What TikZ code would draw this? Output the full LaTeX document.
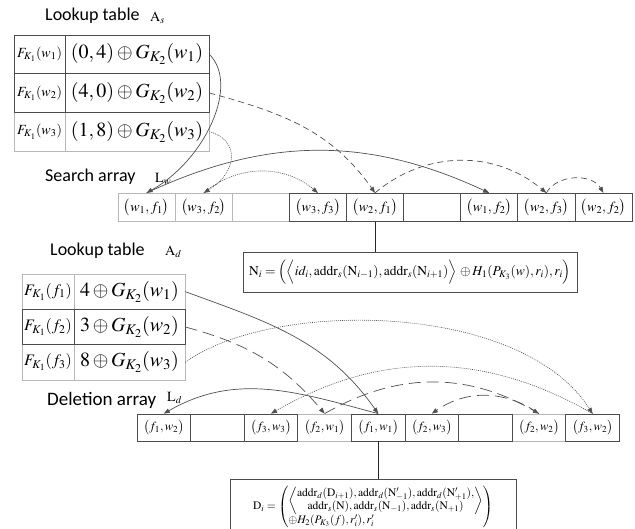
\documentclass[tikz,border=0pt]{standalone}
\usepackage{amsmath}
\usepackage{mathptmx}
\usepackage{fontspec}
\setmainfont{Liberation Serif}
\newfontfamily\labelfont{Carlito}
\usetikzlibrary{arrows.meta}
\definecolor{linegray}{RGB}{80,80,80}

\begin{document}
\begin{tikzpicture}[x=1pt,y=-1pt,
    cellbox/.style={draw=black!70, line width=0.7pt, inner sep=0pt, anchor=center},
    litebox/.style={cellbox, draw=black!28},
    title/.style={anchor=west, inner sep=0pt, font=\labelfont\fontsize{18}{18}\selectfont},
    tag/.style={anchor=west, inner sep=0pt, font=\fontsize{14}{14}\selectfont},
    solidlink/.style={draw=linegray, line width=0.7pt, -{Triangle[length=6pt,width=4.5pt]}},
    dashlink/.style={solidlink, dash pattern=on 6pt off 4pt},
    longdash/.style={solidlink, dash pattern=on 12pt off 6pt},
    dotlink/.style={solidlink, line width=0.6pt, dash pattern=on 1pt off 1pt}]
    \useasboundingbox (0,0) rectangle (635,528);

    % lookup table A_s
    \node[title] (tabs) at (45,16) {Lookup table};
    \node[tag] (tabstag) at (150,18) {$\mathrm{A}_s$};
    \node[litebox, minimum width=51pt, minimum height=38.7pt, font=\fontsize{14}{14}\selectfont] (asl3) at (39.5,131.7) {$F_{K_1}(w_3)$};
    \node[litebox, minimum width=144pt, minimum height=38.7pt, font=\fontsize{20}{20}\selectfont] (as3) at (137,131.7) {$(1,8)\oplus G_{K_2}(w_3)$};
    \node[cellbox, minimum width=51pt, minimum height=38.7pt, font=\fontsize{14}{14}\selectfont] (asl1) at (39.5,54.3) {$F_{K_1}(w_1)$};
    \node[cellbox, minimum width=144pt, minimum height=38.7pt, font=\fontsize{20}{20}\selectfont] (as1) at (137,54.3) {$(0,4)\oplus G_{K_2}(w_1)$};
    \node[cellbox, minimum width=51pt, minimum height=38.7pt, font=\fontsize{14}{14}\selectfont] (asl2) at (39.5,93) {$F_{K_1}(w_2)$};
    \node[cellbox, minimum width=144pt, minimum height=38.7pt, font=\fontsize{20}{20}\selectfont] (as2) at (137,93) {$(4,0)\oplus G_{K_2}(w_2)$};

    % search array L_w
    \node[title] (sarr) at (45,177) {Search array};
    \node[tag] (sarrtag) at (155,179) {$\mathrm{L}_w$};
    \node[litebox, minimum width=57.1pt, minimum height=28.5pt, font=\fontsize{14}{14}\selectfont] (s1) at (146.6,207.5) {$\big(w_1,f_1\big)$};
    \node[litebox, minimum width=57.1pt, minimum height=28.5pt, font=\fontsize{14}{14}\selectfont] (s2) at (203.7,207.5) {$\big(w_3,f_2\big)$};
    \node[litebox, minimum width=57.1pt, minimum height=28.5pt] (s3) at (260.8,207.5) {};
    \node[cellbox, minimum width=57.1pt, minimum height=28.5pt, font=\fontsize{14}{14}\selectfont] (s4) at (317.9,207.5) {$\big(w_3,f_3\big)$};
    \node[cellbox, minimum width=57.1pt, minimum height=28.5pt, font=\fontsize{14}{14}\selectfont] (s5) at (375.0,207.5) {$\big(w_2,f_1\big)$};
    \node[cellbox, minimum width=57.1pt, minimum height=28.5pt] (s6) at (432.1,207.5) {};
    \node[cellbox, minimum width=57.1pt, minimum height=28.5pt, font=\fontsize{14}{14}\selectfont] (s7) at (489.2,207.5) {$\big(w_1,f_2\big)$};
    \node[cellbox, minimum width=57.1pt, minimum height=28.5pt, font=\fontsize{14}{14}\selectfont] (s8) at (546.3,207.5) {$\big(w_2,f_3\big)$};
    \node[cellbox, minimum width=57.1pt, minimum height=28.5pt, font=\fontsize{14}{14}\selectfont] (s9) at (603.4,207.5) {$\big(w_2,f_2\big)$};

    \node[cellbox, minimum width=334pt, minimum height=40pt, font=\fontsize{13.5}{13.5}\selectfont] (ni) at (410,272)
        {$\mathrm{N}_i=\Big(\Big\langle id_i,\mathrm{addr}_s(\mathrm{N}_{i-1}),\mathrm{addr}_s(\mathrm{N}_{i+1})\Big\rangle\,\oplus H_1(P_{K_3}(w),r_i),r_i\Big)$};

    \draw[solidlink] (as1.east) .. controls (240,85) and (205,160) .. (s1.north);
    \draw[solidlink] (s1.north) to[out=25,in=155] (s7.north);
    \draw[dashlink] (as2.east) to[out=-15,in=125] (s5.north);
    \draw[dashlink] (s5.north) to[out=40,in=140] (s8.north);
    \draw[dashlink] (s8.north) to[out=60,in=120] (s9.north);
    \draw[dotlink] (as3.east) .. controls (240,140) and (238,172) .. (s2.north);
    \draw[dotlink] (s2.north) to[out=40,in=140] (s4.north);
    \draw[draw=black!85, line width=0.7pt] (s5.south) -- (s5.south |- ni.north);

    % lookup table A_d
    \node[title] (tabd) at (50,251) {Lookup table};
    \node[tag] (tabdtag) at (165,252) {$\mathrm{A}_d$};
    \node[litebox, minimum width=52pt, minimum height=35.3pt, font=\fontsize{16}{16}\selectfont] (adl1) at (48,291.7) {$F_{K_1}(f_1)$};
    \node[litebox, minimum width=111pt, minimum height=35.3pt, font=\fontsize{20}{20}\selectfont] (ad1) at (129.5,291.7) {$4\oplus G_{K_2}(w_1)$};
    \node[litebox, minimum width=52pt, minimum height=35.3pt, font=\fontsize{16}{16}\selectfont] (adl3) at (48,362.3) {$F_{K_1}(f_3)$};
    \node[litebox, minimum width=111pt, minimum height=35.3pt, font=\fontsize{20}{20}\selectfont] (ad3) at (129.5,362.3) {$8\oplus G_{K_2}(w_3)$};
    \node[cellbox, minimum width=52pt, minimum height=35.3pt, font=\fontsize{16}{16}\selectfont] (adl2) at (48,327) {$F_{K_1}(f_2)$};
    \node[cellbox, minimum width=111pt, minimum height=35.3pt, font=\fontsize{20}{20}\selectfont] (ad2) at (129.5,327) {$3\oplus G_{K_2}(w_2)$};

    % deletion array L_d
    \node[title, font=\labelfont\fontsize{19}{19}\selectfont] (darr) at (47,400) {Deletion array};
    \node[tag] (darrtag) at (167,398) {$\mathrm{L}_d$};
    \node[litebox, minimum width=53.6pt, minimum height=27pt, font=\fontsize{12.5}{12.5}\selectfont] (d4) at (324.6,427.5) {$\big(f_2,w_1\big)$};
    \node[litebox, minimum width=53.6pt, minimum height=27pt, font=\fontsize{12.5}{12.5}\selectfont] (d8) at (539.0,427.5) {$\big(f_2,w_2\big)$};
    \node[cellbox, minimum width=53.6pt, minimum height=27pt, font=\fontsize{12.5}{12.5}\selectfont] (d1) at (163.8,427.5) {$\big(f_1,w_2\big)$};
    \node[cellbox, minimum width=53.6pt, minimum height=27pt] (d2) at (217.4,427.5) {};
    \node[cellbox, minimum width=53.6pt, minimum height=27pt, font=\fontsize{12.5}{12.5}\selectfont] (d3) at (271.0,427.5) {$\big(f_3,w_3\big)$};
    \node[cellbox, minimum width=53.6pt, minimum height=27pt, font=\fontsize{12.5}{12.5}\selectfont] (d5) at (378.2,427.5) {$\big(f_1,w_1\big)$};
    \node[cellbox, minimum width=53.6pt, minimum height=27pt, font=\fontsize{12.5}{12.5}\selectfont] (d6) at (431.8,427.5) {$\big(f_2,w_3\big)$};
    \node[cellbox, minimum width=53.6pt, minimum height=27pt] (d7) at (485.4,427.5) {};
    \node[cellbox, minimum width=53.6pt, minimum height=27pt, font=\fontsize{12.5}{12.5}\selectfont] (d9) at (592.6,427.5) {$\big(f_3,w_2\big)$};

    \node[cellbox, minimum width=286pt, minimum height=56pt, font=\fontsize{11.5}{11.5}\selectfont] (di) at (373,507)
        {$\mathrm{D}_i=\left(\renewcommand{\arraystretch}{1.15}\begin{array}{@{}l@{}}
          \left\langle\begin{array}{@{}c@{}}
          \mathrm{addr}_d(\mathrm{D}_{i+1}),\mathrm{addr}_d(\mathrm{N}'_{-1}),\mathrm{addr}_d(\mathrm{N}'_{+1}),\\
          \mathrm{addr}_s(\mathrm{N}),\mathrm{addr}_s(\mathrm{N}_{-1}),\mathrm{addr}_s(\mathrm{N}_{+1})
          \end{array}\right\rangle\\
          \oplus H_2(P_{K_3}(f),r'_i),r'_i
          \end{array}\right)$};

    \draw[solidlink] (ad1.east) to[out=-20,in=125] (d5.north);
    \draw[solidlink] (d5.north) to[out=165,in=30] (d1.north);
    \draw[longdash] (ad2.east) to[out=-15,in=130] (d4.north);
    \draw[longdash] (d4.north) to[out=30,in=150] (d8.north);
    \draw[longdash] (d8.north) to[out=145,in=35] (d6.north);
    \draw[dotlink] (ad3.east) .. controls (270,300) and (520,300) .. (d9.north);
    \draw[dotlink] (d9.north) to[out=150,in=30] (d3.north);
    \draw[draw=black!85, line width=0.7pt] (d5.south) -- (d5.south |- di.north);
\end{tikzpicture}
\end{document}
